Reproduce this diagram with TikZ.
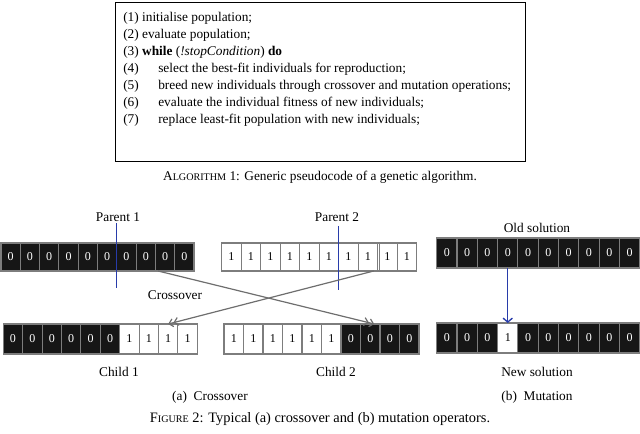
\documentclass[tikz,border=0pt]{standalone}
\usepackage{fontspec}
\setmainfont{Liberation Serif}
\usetikzlibrary{arrows.meta}
\definecolor{cellgray}{RGB}{125,125,125}
\definecolor{cellblack}{RGB}{22,22,22}
\definecolor{cutblue}{RGB}{40,60,170}
\definecolor{xgray}{RGB}{110,110,110}
\newcommand\cellrow[6]{%
  \foreach \v [count=\i] in {#6} {
    \ifnum\v=0 \def\cellsty{zerocell}\else\def\cellsty{onecell}\fi
    \node[\cellsty, minimum width=#3*0.75pt, minimum height=#5*0.75pt] (#1-\i) at ({#2+(\i-0.5)*#3},#4) {\v};
  }}
\newcommand\fsc[1]{{\fontsize{7.6}{9}\selectfont #1}}
\begin{document}
\begin{tikzpicture}[x=0.75pt,y=-0.75pt,
  basecell/.style={draw=cellgray, line width=0.8pt, inner sep=0pt, outer sep=0pt, font=\fontsize{9}{10}\selectfont},
  zerocell/.style={basecell, fill=cellblack, text=white},
  onecell/.style={basecell, fill=white, text=black},
  algline/.style={anchor=base west, inner sep=0pt, font=\fontsize{10}{12}\selectfont},
  lbl/.style={inner sep=0pt, font=\fontsize{10}{12}\selectfont},
  cut/.style={draw=cutblue, line width=1pt},
  xarrow/.style={draw=xgray, line width=0.9pt, -{Straight Barb[length=3pt,width=6pt] Straight Barb[length=3pt,width=6pt]}},
  marrow/.style={draw=cutblue, line width=1pt, -{Straight Barb[length=3pt,width=7pt]}}]
\useasboundingbox (0,0) rectangle (640,434);
% algorithm box
\node[draw=black, line width=0.9pt, minimum width=410*0.75pt, minimum height=159*0.75pt, inner sep=0pt, anchor=north west] (algbox) at (115,2) {};
\node[algline] (l1) at (123,22) {(1) initialise population;};
\node[algline] (l2) at (123,39) {(2) evaluate population;};
\node[algline] (l3) at (123,56) {(3) \textbf{while} (\textit{!stopCondition}) \textbf{do}};
\node[algline] (l4n) at (123,73) {(4)};
\node[algline] (l4) at (158,73) {select the best-fit individuals for reproduction;};
\node[algline] (l5n) at (123,90) {(5)};
\node[algline] (l5) at (158,90) {breed new individuals through crossover and mutation operations;};
\node[algline] (l6n) at (123,107) {(6)};
\node[algline] (l6) at (158,107) {evaluate the individual fitness of new individuals;};
\node[algline] (l7n) at (123,124) {(7)};
\node[algline] (l7) at (158,124) {replace least-fit population with new individuals;};
\node[lbl] (algcap) at (320,177) {A\fsc{LGORITHM} 1: Generic pseudocode of a genetic algorithm.};
% crossover
\cellrow{p1}{1}{19.3}{257}{28}{0,0,0,0,0,0,0,0,0,0}
\cellrow{p2}{221.7}{19.5}{257}{28}{1,1,1,1,1,1,1,1,1,1}
\draw[draw=cellgray, line width=0.8pt] ([xshift=1.6pt]p2-9.north west) -- ([xshift=1.6pt]p2-9.south west);
\cellrow{c1}{3.3}{19.4}{339}{30}{0,0,0,0,0,0,1,1,1,1}
\cellrow{c2}{224}{19.5}{339}{30}{1,1,1,1,1,1,0,0,0,0}
\node[lbl] (par1) at (118,217) {Parent 1};
\node[lbl] (par2) at (337,217) {Parent 2};
\draw[cut] ([yshift=15pt]p1-6.north east) -- ([yshift=-12.75pt]p1-6.south east);
\draw[cut] ([yshift=12.75pt]p2-6.north east) -- ([yshift=-14.25pt]p2-6.south east);
\draw[xarrow] ([xshift=2pt]p1-9.south west) -- ([xshift=3pt]c2-8.north);
\draw[xarrow] ([xshift=-3pt]p2-9.south west) -- (c1-9.north);
\node[lbl] (xlabel) at (175,295) {Crossover};
\node[lbl] (ch1) at (119,372) {Child 1};
\node[lbl] (ch2) at (336,372) {Child 2};
% mutation
\cellrow{old}{436.7}{20.3}{253}{30}{0,0,0,0,0,0,0,0,0,0}
\cellrow{new}{436.7}{20.3}{338}{30}{0,0,0,1,0,0,0,0,0,0}
\node[lbl] (oldl) at (537,228) {Old solution};
\node[lbl] (newl) at (537,372) {New solution};
\draw[marrow] (old-4.south) -- (new-4.north);
% captions
\node[lbl] (capa) at (210,397) {(a)\enspace Crossover};
\node[lbl] (capb) at (537,397) {(b)\enspace Mutation};
\node[lbl, font=\fontsize{10.8}{12}\selectfont] (figcap) at (320,419) {F\fsc{IGURE} 2: Typical (a) crossover and (b) mutation operators.};
\end{tikzpicture}
\end{document}
